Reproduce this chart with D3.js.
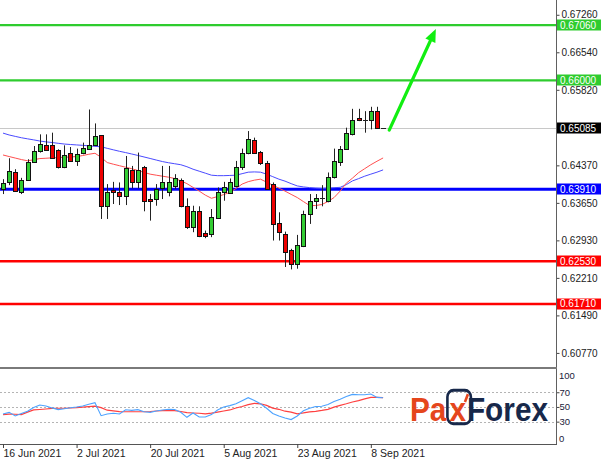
<!DOCTYPE html>
<html><head><meta charset="utf-8">
<script src="https://cdn.jsdelivr.net/npm/d3@7"></script>
<style>body{margin:0;background:#fff}svg{display:block}text{font-family:"Liberation Sans",Arial,sans-serif}</style>
</head><body><svg id="c" width="602" height="459"></svg>
<script>
// ---- data (daily bars, 16 Jun 2021 .. 10 Sep 2021) ----
const open = [0.63914,0.64042,0.64244,0.63851,0.64092,0.64435,0.64646,0.64760,0.64754,0.64665,
0.64329,0.64615,0.64455,0.64602,0.64691,0.64760,0.64945,0.63595,0.63901,0.63862,
0.63775,0.64277,0.64042,0.64340,0.63723,0.63723,0.63927,0.63862,0.63966,0.64092,
0.63584,0.63183,0.63500,0.63074,0.63055,0.63354,0.63851,0.63838,0.63966,0.64329,
0.64602,0.64856,0.64626,0.64411,0.64010,0.63265,0.63055,0.62736,0.62482,0.62831,
0.63437,0.63691,0.63736,0.63691,0.64138,0.64435,0.64678,0.64965,0.65284,0.65238,
0.65238,0.65410,0.65085];
const high = [0.64105,0.64506,0.64296,0.64130,0.64487,0.64741,0.64965,0.64965,0.64997,0.64678,
0.64754,0.64722,0.64691,0.64806,0.65442,0.65175,0.64950,0.64010,0.64053,0.64042,
0.64550,0.64359,0.64615,0.64359,0.63819,0.64010,0.64359,0.64359,0.64201,0.64118,
0.63736,0.63595,0.63584,0.63118,0.63532,0.63947,0.64053,0.64118,0.64455,0.64691,
0.65028,0.64902,0.64646,0.64455,0.64042,0.63469,0.63098,0.62768,0.63035,0.63500,
0.63819,0.63819,0.63990,0.64233,0.64691,0.64741,0.65093,0.65455,0.65455,0.65410,
0.65494,0.65494,0.65085];
const low = [0.63819,0.63990,0.63862,0.63819,0.64073,0.64424,0.64615,0.64646,0.64500,0.64309,
0.64315,0.64435,0.64359,0.64583,0.64678,0.64741,0.63341,0.63341,0.63628,0.63608,
0.63608,0.63927,0.63927,0.63488,0.63309,0.63595,0.63723,0.63775,0.63914,0.63565,
0.63150,0.63087,0.62992,0.62972,0.62992,0.63341,0.63691,0.63832,0.63947,0.64283,
0.64583,0.64596,0.64378,0.63914,0.62927,0.62927,0.62419,0.62373,0.62386,0.62801,
0.63246,0.63532,0.63584,0.63660,0.64118,0.64359,0.64665,0.64945,0.65219,0.64997,
0.65060,0.65085,0.65085];
const close = [0.64023,0.64264,0.63882,0.64092,0.64443,0.64646,0.64774,0.64665,0.64520,0.64340,
0.64563,0.64455,0.64596,0.64697,0.64760,0.64932,0.63595,0.63862,0.63851,0.63775,
0.64315,0.64042,0.64283,0.63691,0.63691,0.63914,0.64053,0.64042,0.64118,0.63584,
0.63183,0.63500,0.63022,0.63022,0.63374,0.63851,0.63947,0.64053,0.64329,0.64602,
0.64869,0.64615,0.64411,0.63914,0.63246,0.63098,0.62705,0.62482,0.62844,0.63437,
0.63691,0.63736,0.63742,0.64138,0.64455,0.64678,0.64997,0.65238,0.65238,0.65245,
0.65410,0.65085,0.65085];
const maFast = [0.64569,0.64539,0.64510,0.64481,0.64458,0.64477,0.64500,0.64506,0.64514,0.64520,
0.64525,0.64531,0.64539,0.64558,0.64583,0.64602,0.64525,0.64424,0.64392,0.64363,
0.64334,0.64306,0.64271,0.64235,0.64201,0.64181,0.64162,0.64143,0.64118,0.64073,
0.64019,0.63947,0.63876,0.63799,0.63738,0.63771,0.63809,0.63851,0.63924,0.64010,
0.64057,0.64086,0.64105,0.64048,0.63990,0.63933,0.63876,0.63813,0.63752,0.63675,
0.63599,0.63599,0.63618,0.63675,0.63752,0.63876,0.64029,0.64124,0.64229,0.64306,
0.64382,0.64449,0.64512];
const maSlow = [0.64989,0.64953,0.64926,0.64900,0.64879,0.64859,0.64837,0.64821,0.64808,0.64793,
0.64779,0.64770,0.64762,0.64754,0.64745,0.64735,0.64726,0.64697,0.64668,0.64640,
0.64615,0.64588,0.64560,0.64531,0.64502,0.64472,0.64443,0.64420,0.64401,0.64382,
0.64344,0.64296,0.64258,0.64220,0.64181,0.64172,0.64172,0.64176,0.64181,0.64210,
0.64239,0.64244,0.64239,0.64201,0.64153,0.64105,0.64067,0.64019,0.63975,0.63956,
0.63943,0.63933,0.63927,0.63933,0.63941,0.63948,0.64000,0.64071,0.64115,0.64162,
0.64201,0.64239,0.64283];
const oscMain = [40.4,42.6,37.7,41.1,44.1,49.3,52.7,51.4,48.7,46.4,
47.5,49.0,49.9,51.2,53.6,55.8,38.1,40.5,41.4,40.4,
46.1,45.3,46.3,43.5,42.6,44.6,45.9,46.9,46.5,42.7,
35.9,41.8,36.3,36.3,39.6,45.9,49.9,51.8,54.4,58.5,
62.6,58.8,54.4,48.2,41.1,37.7,35.0,32.8,37.7,44.8,
48.3,50.5,51.0,53.3,57.4,60.5,64.2,67.1,66.7,66.7,
67.6,63.0,62.6];
const oscSignal = [39.5,40.3,40.1,39.7,42.9,45.9,46.5,47.2,48.0,48.2,
48.2,48.6,49.1,49.8,50.5,51.2,49.0,45.6,44.6,43.7,
43.5,43.5,43.5,43.5,43.8,44.5,45.0,45.4,45.0,43.8,
42.2,41.8,41.4,40.5,41.5,43.0,44.5,45.9,48.6,50.6,
53.2,54.8,54.3,52.2,48.4,46.8,44.2,43.0,40.7,41.9,
43.4,44.1,45.3,46.8,49.7,52.1,54.3,56.7,58.6,61.0,
62.9,62.9,62.6];
const dateTickBars = [0,12,24,36,48,60];
const dateTickLabels = ["16 Jun 2021","2 Jul 2021","20 Jul 2021","5 Aug 2021","23 Aug 2021","8 Sep 2021"];
const priceTicks = [0.6726,0.6654,0.6582,0.6437,0.6365,0.6293,0.6221,0.6149,0.6077];
const levelPrices = [0.6706,0.6600,0.6391,0.6253,0.6171];
const levelColors = ["#2ecc2e","#2ecc2e","#0000ff","#ff0000","#ff0000"];
const levelWidths = [2.2,2.2,3,2.5,2.5];
const bidPrice = 0.65085;
const oscLevels = [70,50,30];
const arrowFrom = {bar:63.0, price:0.65047};
const arrowTo = {bar:70.6, price:0.66989};

// ---- scales ----
const svg = d3.select("#c");
const AX = 556;
const x = d3.scaleLinear().domain([0,62]).range([3,383.1]);
const y = d3.scaleLinear().domain([0.604612,0.675437]).range([369,0]);
const yo = d3.scaleLinear().domain([0,100]).range([443.7,370.2]);

const defs = svg.append("defs");
defs.append("clipPath").attr("id","cm").append("rect").attr("x",0).attr("y",0).attr("width",AX).attr("height",367);
defs.append("clipPath").attr("id","co").append("rect").attr("x",0).attr("y",370).attr("width",AX).attr("height",74);

const main = svg.append("g").attr("clip-path","url(#cm)");
// bid line
main.append("line").attr("x1",0).attr("x2",AX).attr("y1",Math.round(y(bidPrice))+0.5).attr("y2",Math.round(y(bidPrice))+0.5)
  .attr("stroke","#c8c8c8").attr("stroke-width",1);
// level lines
levelPrices.forEach((p,i)=>{
  main.append("line").attr("x1",0).attr("x2",AX).attr("y1",y(p)).attr("y2",y(p))
    .attr("stroke",levelColors[i]).attr("stroke-width",levelWidths[i]);
});
// moving averages
const lineGen = d3.line().x((d,i)=>x(i)).y(d=>y(d));
main.append("path").attr("d",lineGen(maSlow)).attr("fill","none").attr("stroke","#4a4aff").attr("stroke-width",1);
main.append("path").attr("d",lineGen(maFast)).attr("fill","none").attr("stroke","#ff5050").attr("stroke-width",1);
// candles
open.forEach((o,i)=>{
  const c = close[i];
  const cx = Math.round(x(i))+0.5;
  main.append("line").attr("x1",cx).attr("x2",cx).attr("y1",y(high[i])).attr("y2",y(low[i]))
    .attr("stroke","#222").attr("stroke-width",1);
  const top = y(Math.max(o,c)), bot = y(Math.min(o,c));
  if (bot-top < 1.5) {
    const yy = Math.round((top+bot)/2)+0.5;
    main.append("line").attr("x1",cx-2.5).attr("x2",cx+2.5).attr("y1",yy).attr("y2",yy).attr("stroke","#222").attr("stroke-width",1);
  } else {
    main.append("rect").attr("x",cx-2).attr("y",Math.round(top)+0.5).attr("width",4).attr("height",Math.round(bot)-Math.round(top))
      .attr("fill", c>=o ? "#33cc33" : "#ee0000").attr("stroke","#111").attr("stroke-width",1);
  }
});
// arrow
{
  const x1=x(arrowFrom.bar), y1=y(arrowFrom.price), x2=x(arrowTo.bar), y2=y(arrowTo.price);
  const ang = Math.atan2(y2-y1,x2-x1), L=13, Wd=5.5;
  const bx = x2-L*Math.cos(ang), by = y2-L*Math.sin(ang);
  main.append("line").attr("x1",x1).attr("y1",y1).attr("x2",bx).attr("y2",by)
    .attr("stroke","#11ee11").attr("stroke-width",3.2).attr("stroke-linecap","round");
  const px = -Math.sin(ang), py = Math.cos(ang);
  main.append("path").attr("d",`M${x2},${y2}L${bx+px*Wd},${by+py*Wd}L${bx-px*Wd},${by-py*Wd}Z`).attr("fill","#11ee11");
}

// ---- oscillator panel ----
const osc = svg.append("g").attr("clip-path","url(#co)");
oscLevels.forEach(v=>{
  osc.append("line").attr("x1",0).attr("x2",AX).attr("y1",Math.round(yo(v))+0.5).attr("y2",Math.round(yo(v))+0.5)
    .attr("stroke","#b4b4b4").attr("stroke-width",1).attr("stroke-dasharray","2,2");
});
const oline = d3.line().x((d,i)=>x(i)).y(d=>yo(d));
osc.append("path").attr("d",oline(oscSignal)).attr("fill","none").attr("stroke","#ff4040").attr("stroke-width",1.2);
osc.append("path").attr("d",oline(oscMain)).attr("fill","none").attr("stroke","#4da3ff").attr("stroke-width",1.1);

// ---- logo ----
{
  const outer = svg.append("g");
  const g = outer.append("g");
  const fs = 30, base = 421;
  const orange = "#e5461c", navy = "#17284a";
  let cur = 0;
  const t1 = g.append("text").attr("x",cur).attr("y",base).attr("font-size",fs).attr("font-weight","bold").attr("fill",orange).text("Pa");
  cur += t1.node().getComputedTextLength() + 3;
  const boxX = cur - 2;
  const t2 = g.append("text").attr("x",cur).attr("y",base).attr("font-size",fs).attr("font-weight","bold").attr("fill",orange).text("x");
  cur += t2.node().getComputedTextLength();
  g.append("line").attr("x1",cur-1).attr("y1",404).attr("x2",cur+2).attr("y2",397).attr("stroke",orange).attr("stroke-width",2.6);
  cur += 1;
  g.insert("rect",":first-child").attr("x",boxX).attr("y",393.5).attr("width",cur-boxX+4).attr("height",30).attr("rx",6)
    .attr("fill","none").attr("stroke",navy).attr("stroke-width",2.6);
  const t3 = g.append("text").attr("x",cur).attr("y",base).attr("font-size",fs).attr("font-weight","bold").attr("fill",navy).text("Forex");
  cur += t3.node().getComputedTextLength();
  const sx = 138/cur;
  outer.attr("transform",`translate(410,${base}) scale(${sx},1.12) translate(0,${-base})`);
}

// ---- axes ----
const ya = svg.append("g").attr("transform",`translate(${AX+0.5},0)`)
  .call(d3.axisRight(y).tickValues(priceTicks).tickFormat(d3.format(".5f")).tickSize(3).tickSizeOuter(0).tickPadding(2));
ya.select(".domain").remove();
ya.selectAll("line").attr("stroke","#444");
ya.selectAll("text").attr("font-size",10).attr("fill","#222").attr("font-family","Liberation Sans, Arial");

const oa = svg.append("g").attr("transform",`translate(${AX+0.5},0)`)
  .call(d3.axisRight(yo).tickValues(oscLevels).tickSize(3).tickSizeOuter(0).tickPadding(0));
oa.select(".domain").remove();
oa.selectAll("line").attr("stroke","#444");
oa.selectAll("text").attr("font-size",9.5).attr("fill","#1a1a3a").attr("font-family","Liberation Sans, Arial");
svg.append("text").attr("x",AX+3).attr("y",yo(100)+6).attr("dy","0.32em").attr("font-size",9.5).attr("fill","#1a1a3a").text("100");
svg.append("text").attr("x",AX+3).attr("y",yo(0)-5).attr("dy","0.32em").attr("font-size",9.5).attr("fill","#1a1a3a").text("0");

// frame lines
svg.append("line").attr("x1",AX+0.5).attr("x2",AX+0.5).attr("y1",0).attr("y2",444).attr("stroke","#606060");
svg.append("line").attr("x1",0).attr("x2",AX+1).attr("y1",368).attr("y2",368).attr("stroke","#7a7a7a").attr("stroke-width",2.2);
svg.append("line").attr("x1",0).attr("x2",AX+1).attr("y1",444.5).attr("y2",444.5).attr("stroke","#555").attr("stroke-width",1);

// date axis
const xa = svg.append("g").attr("transform","translate(0,444)")
  .call(d3.axisBottom(x).tickValues(dateTickBars).tickFormat((d,i)=>dateTickLabels[i]).tickSize(4).tickSizeOuter(0).tickPadding(2));
xa.select(".domain").remove();
xa.selectAll("line").attr("stroke","#444");
xa.selectAll("text").attr("font-size",10.5).attr("fill","#222").attr("text-anchor","start").attr("dx","0")
  .attr("font-family","Liberation Sans, Arial");

// price label boxes
const boxes = levelPrices.map((p,i)=>({p, c:levelColors[i]})).concat([{p:bidPrice,c:"#000"}]);
boxes.forEach(b=>{
  const yy = y(b.p);
  svg.append("rect").attr("x",AX+1).attr("y",Math.round(yy)-5.5).attr("width",44).attr("height",11).attr("fill",b.c);
  svg.append("text").attr("x",AX+4).attr("y",yy).attr("dy","0.35em").attr("font-size",10).attr("fill","#fff")
    .text(d3.format(".5f")(b.p));
});
</script></body></html>
